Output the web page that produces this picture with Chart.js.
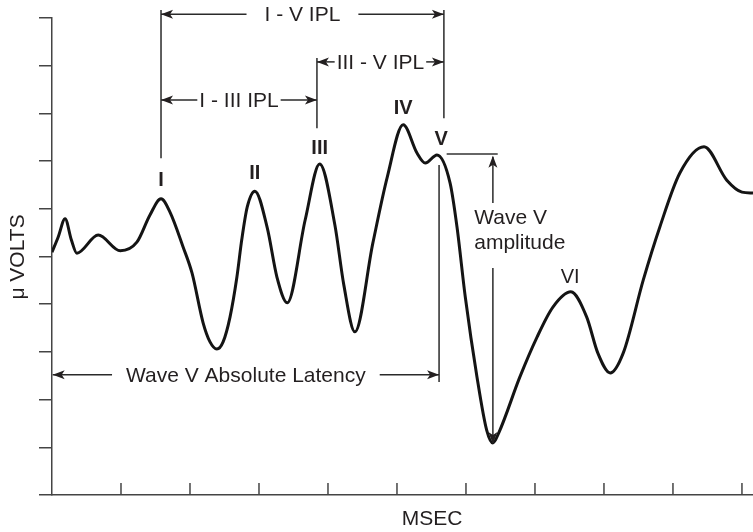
<!DOCTYPE html>
<html>
<head>
<meta charset="utf-8">
<script src="https://cdn.jsdelivr.net/npm/chart.js@4/dist/chart.umd.min.js"></script>
<style>
  html, body { margin: 0; padding: 0; background: #fff; }
  #wrap { width: 753px; height: 532px; }
</style>
</head>
<body>
<div id="wrap"><canvas id="abrChart" width="753" height="532"></canvas></div>
<script>
// waveform (msec, microvolts in axis units)
const timeMs = [0, 0.09, 0.19, 0.28, 0.36, 0.67, 0.99, 1.23, 1.42, 1.58, 1.71, 1.90, 2.03, 2.19, 2.29,
  2.39, 2.48, 2.58, 2.68, 2.75, 2.83, 2.94, 3.12, 3.26, 3.41, 3.67, 3.88, 4.10, 4.23, 4.39,
  4.65, 4.86, 5.09, 5.29, 5.41, 5.58, 5.77, 5.87, 5.99, 6.16, 6.30, 6.39, 6.48, 6.78, 7.03,
  7.26, 7.52, 7.75, 7.91, 8.09, 8.28, 8.57, 8.81, 9.10, 9.45, 9.78, 10.00, 10.16];
const amplitudeUv = [5.09, 5.41, 5.79, 5.35, 5.07, 5.45, 5.12, 5.30, 5.87, 6.21, 5.93, 5.20, 4.65, 3.61, 3.21,
  3.06, 3.21, 3.73, 4.57, 5.35, 6.04, 6.37, 5.60, 4.57, 4.03, 5.77, 6.94, 5.66, 4.40, 3.42,
  5.28, 6.67, 7.76, 7.17, 6.96, 7.13, 6.54, 5.62, 4.15, 2.47, 1.36, 1.09, 1.32, 2.47, 3.31,
  3.94, 4.26, 3.73, 2.98, 2.56, 2.98, 4.51, 5.62, 6.75, 7.30, 6.60, 6.35, 6.33];

// wave labels and where they sit
const peakNames = ['I', 'II', 'III', 'IV', 'V', 'VI'];
const peakTime = [1.58, 2.94, 3.88, 5.09, 5.64, 7.51];
const peakLabelY = [6.60, 6.75, 7.27, 8.11, 7.46, 4.57];
const peakBold = [true, true, true, true, true, false];

// axis ticks
const xTicks = [1, 2, 3, 4, 5, 6, 7, 8, 9, 10];
const yMin = 0, yMax = 10, xMin = 0, xMax = 10.16;

const FONT = "'Liberation Sans', Arial, Helvetica, sans-serif";
const INK = '#231f20';

function arrowHead(ctx, x, y, dir) {
  // dir: 'l', 'r', 'u', 'd'
  const len = 12, half = 4.5;
  ctx.beginPath();
  if (dir === 'l') { ctx.moveTo(x, y); ctx.lineTo(x + len, y - half); ctx.lineTo(x + len - 3, y); ctx.lineTo(x + len, y + half); }
  if (dir === 'r') { ctx.moveTo(x, y); ctx.lineTo(x - len, y - half); ctx.lineTo(x - len + 3, y); ctx.lineTo(x - len, y + half); }
  if (dir === 'u') { ctx.moveTo(x, y); ctx.lineTo(x - half, y + len); ctx.lineTo(x, y + len - 3); ctx.lineTo(x + half, y + len); }
  if (dir === 'd') { ctx.moveTo(x, y); ctx.lineTo(x - half, y - len); ctx.lineTo(x, y - len + 3); ctx.lineTo(x + half, y - len); }
  ctx.closePath();
  ctx.fill();
}

function line(ctx, x1, y1, x2, y2) {
  ctx.beginPath();
  ctx.moveTo(x1, y1);
  ctx.lineTo(x2, y2);
  ctx.stroke();
}

// horizontal double arrow with its label sitting in a gap in the middle
function spanArrow(ctx, x1, x2, y, text, gap) {
  const mid = (x1 + x2) / 2;
  const w = ctx.measureText(text).width;
  const a = mid - w / 2 - gap, b = mid + w / 2 + gap;
  line(ctx, x1, y, a, y);
  line(ctx, b, y, x2, y);
  arrowHead(ctx, x1, y, 'l');
  arrowHead(ctx, x2, y, 'r');
  ctx.fillText(text, mid, y + 1);
}

const annotate = {
  id: 'annotate',
  afterDraw(chart) {
    const ctx = chart.ctx;
    const sx = chart.scales.x, sy = chart.scales.y;
    const px = v => sx.getPixelForValue(v);
    const py = v => sy.getPixelForValue(v);
    ctx.save();

    // x ticks point up into the plot
    ctx.strokeStyle = '#444';
    ctx.lineWidth = 1.5;
    xTicks.forEach(t => line(ctx, px(t), py(yMin), px(t), py(yMin) - 12));

    ctx.strokeStyle = '#2a2a2a';
    ctx.fillStyle = INK;
    ctx.lineWidth = 1.5;
    ctx.textAlign = 'center';
    ctx.textBaseline = 'middle';
    ctx.font = '21px ' + FONT;

    // interpeak latency brackets
    line(ctx, px(1.58), py(10.17), px(1.58), py(7.06));
    line(ctx, px(5.68), py(10.17), px(5.68), py(7.90));
    line(ctx, px(3.84), py(9.16), px(3.84), py(7.69));
    spanArrow(ctx, px(1.58), px(5.68), py(10.08), 'I - V IPL', 18);
    spanArrow(ctx, px(3.84), px(5.68), py(9.08), 'III - V IPL', 2);
    spanArrow(ctx, px(1.58), px(3.84), py(8.28), 'I - III IPL', 2);

    // absolute latency
    line(ctx, px(5.61), py(6.92), px(5.61), py(2.37));
    spanArrow(ctx, px(0.01), px(5.61), py(2.52), 'Wave V Absolute Latency', 14);

    // wave V amplitude
    ctx.strokeStyle = '#666';
    ctx.lineWidth = 2;
    line(ctx, px(5.72), py(7.15), px(6.46), py(7.15));
    ctx.strokeStyle = '#2a2a2a';
    ctx.lineWidth = 1.5;
    line(ctx, px(6.39), py(7.09), px(6.39), py(6.12));
    line(ctx, px(6.39), py(4.76), px(6.39), py(1.09));
    arrowHead(ctx, px(6.39), py(7.11), 'u');
    arrowHead(ctx, px(6.39), py(1.07), 'd');
    ctx.textAlign = 'left';
    ctx.fillText('Wave V', px(6.12), py(5.81));
    ctx.fillText('amplitude', px(6.12), py(5.28));

    // peak names
    ctx.textAlign = 'center';
    peakNames.forEach((name, i) => {
      ctx.font = (peakBold[i] ? 'bold ' : '') + '20px ' + FONT;
      ctx.fillText(name, px(peakTime[i]), py(peakLabelY[i]));
    });

    // axis titles
    ctx.font = '21px ' + FONT;
    ctx.fillText('MSEC', px(5.51), py(-0.50));
    ctx.translate(18, py(4.99));
    ctx.rotate(-Math.PI / 2);
    ctx.fillText('\u03bc VOLTS', 0, 0);
    ctx.restore();
  }
};

const chart = new Chart(document.getElementById('abrChart'), {
  type: 'line',
  data: {
    datasets: [{
      data: timeMs.map((t, i) => ({ x: t, y: amplitudeUv[i] })),
      borderColor: '#141414',
      borderWidth: 3,
      pointRadius: 0,
      cubicInterpolationMode: 'monotone',
      fill: false
    }]
  },
  options: {
    responsive: false,
    animation: false,
    layout: { padding: { top: 18, right: 0, left: 0, bottom: 0 } },
    plugins: { legend: { display: false }, tooltip: { enabled: false } },
    scales: {
      x: {
        type: 'linear',
        min: xMin,
        max: xMax,
        ticks: { display: false, stepSize: 1 },
        grid: { display: false },
        border: { display: true, color: '#444', width: 1.5 },
        afterFit: s => { s.height = 37; }
      },
      y: {
        min: yMin,
        max: yMax,
        ticks: { display: false, stepSize: 1 },
        grid: { drawOnChartArea: false, drawTicks: true, tickLength: 13, color: '#444', lineWidth: 1.5 },
        border: { display: true, color: '#444', width: 1.5 },
        afterFit: s => { s.width = 52; }
      }
    }
  },
  plugins: [annotate]
});
</script>
</body>
</html>
